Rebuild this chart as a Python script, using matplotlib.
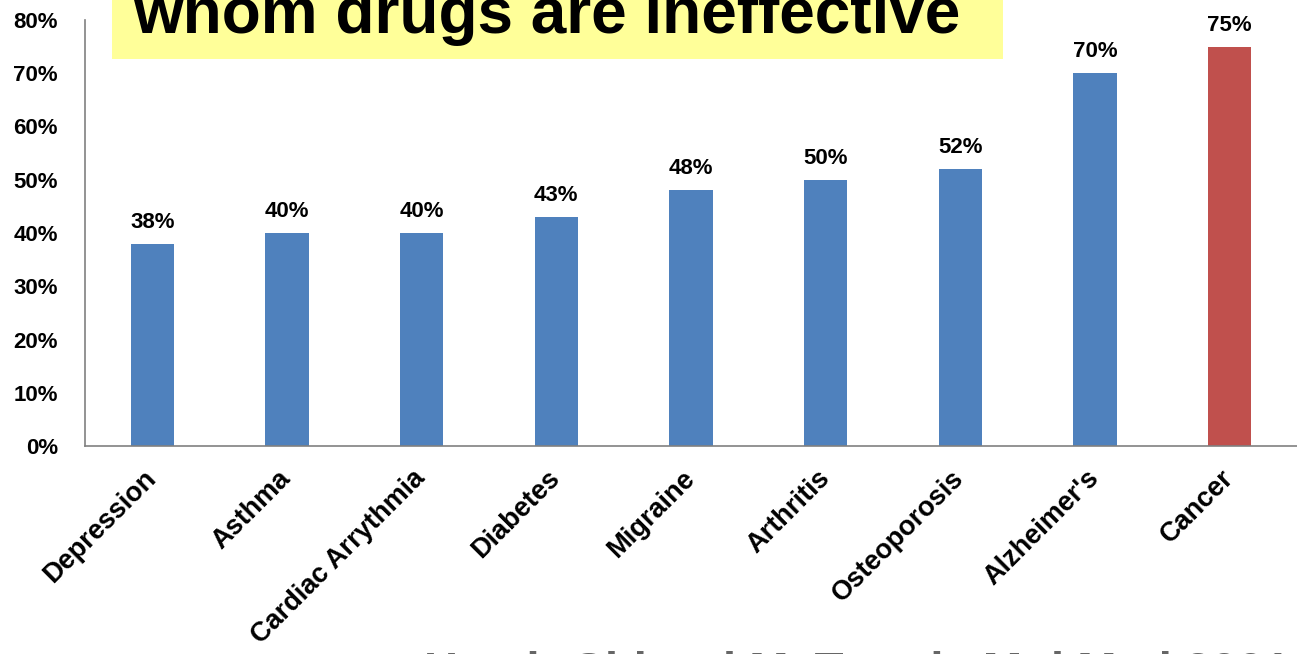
import matplotlib
matplotlib.use("Agg")
import matplotlib.pyplot as plt
from matplotlib.patches import Rectangle
from matplotlib.ticker import FuncFormatter

plt.rcParams['font.family'] = ['Liberation Sans', 'DejaVu Sans']

# Share of patients for whom drugs are ineffective, by condition
conditions = ["Depression", "Asthma", "Cardiac Arrythmia", "Diabetes", "Migraine",
              "Arthritis", "Osteoporosis", "Alzheimer's", "Cancer"]
ineffective_pct = [38, 40, 40, 43, 48, 50, 52, 70, 75]
highlight = "Cancer"

title_line = "whom drugs are ineffective"
source_line = "Heath-Chiozzi M, Trends Mol Med 2001"

BLUE = "#4F81BD"
RED = "#C0504D"

W, H = 1297, 654
fig = plt.figure(figsize=(W / 100, H / 100), dpi=100)
ax = fig.add_axes([85 / W, (H - 446) / H, 1 - 85 / W, (446 - 20) / H])

values = [v / 100 for v in ineffective_pct]
colors = [RED if c == highlight else BLUE for c in conditions]
x = range(len(conditions))
bars = ax.bar(x, values, width=0.32, color=colors, zorder=2)

for rect, v in zip(bars, ineffective_pct):
    ax.annotate(f"{v}%", (rect.get_x() + rect.get_width() / 2, rect.get_height()),
                xytext=(0, 8), textcoords="offset points", ha="center", va="bottom",
                fontsize=16, fontweight="bold")

ax.set_xlim(-0.5, len(conditions) - 0.5)
ax.set_ylim(0, 0.8)
ax.set_yticks([i / 10 for i in range(9)])
ax.yaxis.set_major_formatter(FuncFormatter(lambda v, _: f"{v * 100:.0f}%"))
ax.tick_params(axis="y", length=0, pad=19.5, labelsize=16)
for lab in ax.get_yticklabels():
    lab.set_fontweight("bold")

ax.set_xticks(list(x))
ax.set_xticklabels(conditions, rotation=45, ha="right", va="center",
                   rotation_mode="anchor", fontsize=19.5, fontweight="bold")
ax.tick_params(axis="x", length=0, pad=20.5)

for side in ("top", "right"):
    ax.spines[side].set_visible(False)
for side in ("left", "bottom"):
    ax.spines[side].set_color("#808080")
    ax.spines[side].set_linewidth(1.2)

# Title banner
fig.patches.append(Rectangle((112 / W, 1 - 59 / H), (1003 - 112) / W, 59 / H + 0.01,
                             transform=fig.transFigure, facecolor="#FFFF99",
                             edgecolor="none", zorder=0))
fig.text(133 / W, 1 - 33 / H, title_line, fontsize=46, fontweight="bold",
         ha="left", va="baseline", color="black")

# Source line, mostly running off the bottom edge
fig.text(424 / W, 1 - 684.5 / H, source_line, fontsize=34, fontweight="bold",
         ha="left", va="baseline", color="#666666")

fig.savefig("out.png", dpi=100)
